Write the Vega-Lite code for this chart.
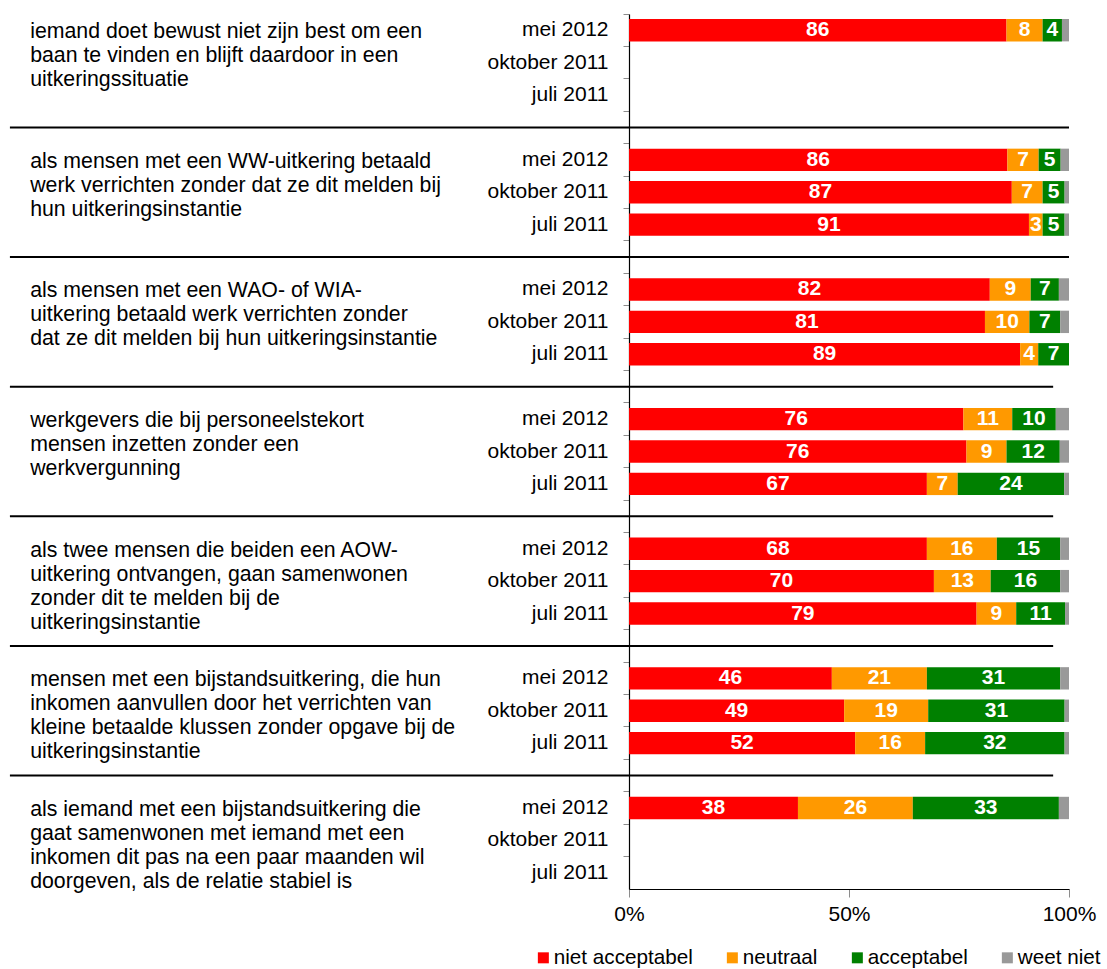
{
  "$schema": "https://vega.github.io/schema/vega-lite/v6.json",
  "width": 440,
  "height": 875,
  "autosize": {"type": "none"},
  "padding": {"left": 629, "top": 14, "right": 38, "bottom": 80},
  "background": "white",
  "config": {
    "font": "Liberation Sans",
    "view": {"stroke": null},
    "axis": {"grid": false}
  },
  "datasets": {
    "segments": [
      {"rij": "g1|mei 2012", "cat": "niet acceptabel", "volgorde": 1, "pct": 85.8, "label": "86"},
      {"rij": "g1|mei 2012", "cat": "neutraal", "volgorde": 2, "pct": 8.2, "label": "8"},
      {"rij": "g1|mei 2012", "cat": "acceptabel", "volgorde": 3, "pct": 4.4, "label": "4"},
      {"rij": "g1|mei 2012", "cat": "weet niet", "volgorde": 4, "pct": 1.6, "label": "2"},
      {"rij": "g2|mei 2012", "cat": "niet acceptabel", "volgorde": 1, "pct": 86.0, "label": "86"},
      {"rij": "g2|mei 2012", "cat": "neutraal", "volgorde": 2, "pct": 7.1, "label": "7"},
      {"rij": "g2|mei 2012", "cat": "acceptabel", "volgorde": 3, "pct": 5.0, "label": "5"},
      {"rij": "g2|mei 2012", "cat": "weet niet", "volgorde": 4, "pct": 1.9, "label": "2"},
      {"rij": "g2|oktober 2011", "cat": "niet acceptabel", "volgorde": 1, "pct": 87.0, "label": "87"},
      {"rij": "g2|oktober 2011", "cat": "neutraal", "volgorde": 2, "pct": 7.0, "label": "7"},
      {"rij": "g2|oktober 2011", "cat": "acceptabel", "volgorde": 3, "pct": 5.0, "label": "5"},
      {"rij": "g2|oktober 2011", "cat": "weet niet", "volgorde": 4, "pct": 1.0, "label": "1"},
      {"rij": "g2|juli 2011", "cat": "niet acceptabel", "volgorde": 1, "pct": 90.9, "label": "91"},
      {"rij": "g2|juli 2011", "cat": "neutraal", "volgorde": 2, "pct": 3.1, "label": "3"},
      {"rij": "g2|juli 2011", "cat": "acceptabel", "volgorde": 3, "pct": 5.0, "label": "5"},
      {"rij": "g2|juli 2011", "cat": "weet niet", "volgorde": 4, "pct": 1.0, "label": "1"},
      {"rij": "g3|mei 2012", "cat": "niet acceptabel", "volgorde": 1, "pct": 82.0, "label": "82"},
      {"rij": "g3|mei 2012", "cat": "neutraal", "volgorde": 2, "pct": 9.3, "label": "9"},
      {"rij": "g3|mei 2012", "cat": "acceptabel", "volgorde": 3, "pct": 6.4, "label": "7"},
      {"rij": "g3|mei 2012", "cat": "weet niet", "volgorde": 4, "pct": 2.3, "label": "2"},
      {"rij": "g3|oktober 2011", "cat": "niet acceptabel", "volgorde": 1, "pct": 80.9, "label": "81"},
      {"rij": "g3|oktober 2011", "cat": "neutraal", "volgorde": 2, "pct": 10.1, "label": "10"},
      {"rij": "g3|oktober 2011", "cat": "acceptabel", "volgorde": 3, "pct": 7.0, "label": "7"},
      {"rij": "g3|oktober 2011", "cat": "weet niet", "volgorde": 4, "pct": 2.0, "label": "2"},
      {"rij": "g3|juli 2011", "cat": "niet acceptabel", "volgorde": 1, "pct": 88.9, "label": "89"},
      {"rij": "g3|juli 2011", "cat": "neutraal", "volgorde": 2, "pct": 4.1, "label": "4"},
      {"rij": "g3|juli 2011", "cat": "acceptabel", "volgorde": 3, "pct": 7.0, "label": "7"},
      {"rij": "g4|mei 2012", "cat": "niet acceptabel", "volgorde": 1, "pct": 76.0, "label": "76"},
      {"rij": "g4|mei 2012", "cat": "neutraal", "volgorde": 2, "pct": 11.1, "label": "11"},
      {"rij": "g4|mei 2012", "cat": "acceptabel", "volgorde": 3, "pct": 9.9, "label": "10"},
      {"rij": "g4|mei 2012", "cat": "weet niet", "volgorde": 4, "pct": 3.0, "label": "3"},
      {"rij": "g4|oktober 2011", "cat": "niet acceptabel", "volgorde": 1, "pct": 76.7, "label": "76"},
      {"rij": "g4|oktober 2011", "cat": "neutraal", "volgorde": 2, "pct": 9.1, "label": "9"},
      {"rij": "g4|oktober 2011", "cat": "acceptabel", "volgorde": 3, "pct": 12.1, "label": "12"},
      {"rij": "g4|oktober 2011", "cat": "weet niet", "volgorde": 4, "pct": 2.1, "label": "2"},
      {"rij": "g4|juli 2011", "cat": "niet acceptabel", "volgorde": 1, "pct": 67.7, "label": "67"},
      {"rij": "g4|juli 2011", "cat": "neutraal", "volgorde": 2, "pct": 7.0, "label": "7"},
      {"rij": "g4|juli 2011", "cat": "acceptabel", "volgorde": 3, "pct": 24.2, "label": "24"},
      {"rij": "g4|juli 2011", "cat": "weet niet", "volgorde": 4, "pct": 1.1, "label": "1"},
      {"rij": "g5|mei 2012", "cat": "niet acceptabel", "volgorde": 1, "pct": 67.7, "label": "68"},
      {"rij": "g5|mei 2012", "cat": "neutraal", "volgorde": 2, "pct": 15.9, "label": "16"},
      {"rij": "g5|mei 2012", "cat": "acceptabel", "volgorde": 3, "pct": 14.4, "label": "15"},
      {"rij": "g5|mei 2012", "cat": "weet niet", "volgorde": 4, "pct": 2.0, "label": "2"},
      {"rij": "g5|oktober 2011", "cat": "niet acceptabel", "volgorde": 1, "pct": 69.3, "label": "70"},
      {"rij": "g5|oktober 2011", "cat": "neutraal", "volgorde": 2, "pct": 12.9, "label": "13"},
      {"rij": "g5|oktober 2011", "cat": "acceptabel", "volgorde": 3, "pct": 15.8, "label": "16"},
      {"rij": "g5|oktober 2011", "cat": "weet niet", "volgorde": 4, "pct": 2.0, "label": "2"},
      {"rij": "g5|juli 2011", "cat": "niet acceptabel", "volgorde": 1, "pct": 79.0, "label": "79"},
      {"rij": "g5|juli 2011", "cat": "neutraal", "volgorde": 2, "pct": 9.0, "label": "9"},
      {"rij": "g5|juli 2011", "cat": "acceptabel", "volgorde": 3, "pct": 11.1, "label": "11"},
      {"rij": "g5|juli 2011", "cat": "weet niet", "volgorde": 4, "pct": 0.9, "label": "1"},
      {"rij": "g6|mei 2012", "cat": "niet acceptabel", "volgorde": 1, "pct": 46.1, "label": "46"},
      {"rij": "g6|mei 2012", "cat": "neutraal", "volgorde": 2, "pct": 21.6, "label": "21"},
      {"rij": "g6|mei 2012", "cat": "acceptabel", "volgorde": 3, "pct": 30.3, "label": "31"},
      {"rij": "g6|mei 2012", "cat": "weet niet", "volgorde": 4, "pct": 2.0, "label": "2"},
      {"rij": "g6|oktober 2011", "cat": "niet acceptabel", "volgorde": 1, "pct": 48.9, "label": "49"},
      {"rij": "g6|oktober 2011", "cat": "neutraal", "volgorde": 2, "pct": 19.1, "label": "19"},
      {"rij": "g6|oktober 2011", "cat": "acceptabel", "volgorde": 3, "pct": 31.0, "label": "31"},
      {"rij": "g6|oktober 2011", "cat": "weet niet", "volgorde": 4, "pct": 1.0, "label": "1"},
      {"rij": "g6|juli 2011", "cat": "niet acceptabel", "volgorde": 1, "pct": 51.4, "label": "52"},
      {"rij": "g6|juli 2011", "cat": "neutraal", "volgorde": 2, "pct": 15.9, "label": "16"},
      {"rij": "g6|juli 2011", "cat": "acceptabel", "volgorde": 3, "pct": 31.7, "label": "32"},
      {"rij": "g6|juli 2011", "cat": "weet niet", "volgorde": 4, "pct": 1.0, "label": "1"},
      {"rij": "g7|mei 2012", "cat": "niet acceptabel", "volgorde": 1, "pct": 38.4, "label": "38"},
      {"rij": "g7|mei 2012", "cat": "neutraal", "volgorde": 2, "pct": 26.1, "label": "26"},
      {"rij": "g7|mei 2012", "cat": "acceptabel", "volgorde": 3, "pct": 33.2, "label": "33"},
      {"rij": "g7|mei 2012", "cat": "weet niet", "volgorde": 4, "pct": 2.3, "label": "2"}
    ],
    "groups": [
      {"rij": "g1|mei 2012", "xpos": -136.1, "tekst": ["iemand doet bewust niet zijn best om een", "baan te vinden en blijft daardoor in een", "uitkeringssituatie"]},
      {"rij": "g2|mei 2012", "xpos": -136.1, "tekst": ["als mensen met een WW-uitkering betaald", "werk verrichten zonder dat ze dit melden bij", "hun uitkeringsinstantie"]},
      {"rij": "g3|mei 2012", "xpos": -136.1, "tekst": ["als mensen met een WAO- of WIA-", "uitkering betaald werk verrichten zonder", "dat ze dit melden bij hun uitkeringsinstantie"]},
      {"rij": "g4|mei 2012", "xpos": -136.1, "tekst": ["werkgevers die bij personeelstekort", "mensen inzetten zonder een", "werkvergunning"]},
      {"rij": "g5|mei 2012", "xpos": -136.1, "tekst": ["als twee mensen die beiden een AOW-", "uitkering ontvangen, gaan samenwonen", "zonder dit te melden bij de", "uitkeringsinstantie"]},
      {"rij": "g6|mei 2012", "xpos": -136.1, "tekst": ["mensen met een bijstandsuitkering, die hun", "inkomen aanvullen door het verrichten van", "kleine betaalde klussen zonder opgave bij de", "uitkeringsinstantie"]},
      {"rij": "g7|mei 2012", "xpos": -136.1, "tekst": ["als iemand met een bijstandsuitkering die", "gaat samenwonen met iemand met een", "inkomen dit pas na een paar maanden wil", "doorgeven, als de relatie stabiel is"]}
    ],
    "seps": [
      {"rij": "gap1", "van": -140.7, "tot": 100},
      {"rij": "gap2", "van": -140.7, "tot": 100},
      {"rij": "gap3", "van": -140.7, "tot": 96.4},
      {"rij": "gap4", "van": -140.7, "tot": 96.4},
      {"rij": "gap5", "van": -140.7, "tot": 96.4},
      {"rij": "gap6", "van": -140.7, "tot": 96.4}
    ]
  },
  "layer": [
    {
      "data": {"name": "segments"},
      "mark": {"type": "bar", "height": {"band": 0.69}},
      "encoding": {
        "y": {
          "field": "rij",
          "type": "nominal",
          "scale": {
            "domain": [
              "g1|mei 2012", "g1|oktober 2011", "g1|juli 2011", "gap1",
              "g2|mei 2012", "g2|oktober 2011", "g2|juli 2011", "gap2",
              "g3|mei 2012", "g3|oktober 2011", "g3|juli 2011", "gap3",
              "g4|mei 2012", "g4|oktober 2011", "g4|juli 2011", "gap4",
              "g5|mei 2012", "g5|oktober 2011", "g5|juli 2011", "gap5",
              "g6|mei 2012", "g6|oktober 2011", "g6|juli 2011", "gap6",
              "g7|mei 2012", "g7|oktober 2011", "g7|juli 2011"
            ],
            "paddingInner": 0,
            "paddingOuter": 0
          },
          "axis": {
            "title": null,
            "labelExpr": "indexof(datum.value, '|') >= 0 ? split(datum.value, '|')[1] : ''",
            "labelFontSize": 21,
            "labelColor": "#000000",
            "labelPadding": 15,
            "bandPosition": 0,
            "tickSize": 6,
            "tickColor": "#8c8c8c",
            "domainColor": "#000000",
            "domainWidth": 1.2
          }
        },
        "x": {
          "field": "pct",
          "type": "quantitative",
          "stack": "zero",
          "scale": {"domain": [0, 100], "nice": false, "zero": true},
          "axis": {
            "title": null,
            "values": [0, 50, 100],
            "labelExpr": "datum.value + '%'",
            "labelFlush": false,
            "labelFontSize": 21,
            "labelColor": "#000000",
            "labelPadding": 6,
            "tickSize": 8,
            "tickColor": "#8c8c8c",
            "domainColor": "#000000",
            "domainWidth": 1.2
          }
        },
        "order": {"field": "volgorde", "type": "quantitative"},
        "color": {
          "field": "cat",
          "type": "nominal",
          "scale": {
            "domain": ["niet acceptabel", "neutraal", "acceptabel", "weet niet"],
            "range": ["#ff0000", "#ff9900", "#008000", "#999999"]
          },
          "legend": {
            "title": null,
            "orient": "none",
            "legendX": -96,
            "legendY": 933,
            "direction": "horizontal",
            "symbolType": "square",
            "symbolSize": 121,
            "symbolStrokeWidth": 0,
            "labelFontSize": 20.7,
            "labelColor": "#000000",
            "labelOffset": 0,
            "columnPadding": 29,
            "labelLimit": 300
          }
        }
      }
    },
    {
      "data": {"name": "segments"},
      "transform": [
        {"stack": "pct", "groupby": ["rij"], "sort": [{"field": "volgorde"}], "as": ["x0", "x1"]},
        {"filter": "datum.cat != 'weet niet'"},
        {"fold": ["x0", "x1"], "as": ["rand", "pos"]},
        {"aggregate": [{"op": "mean", "field": "pos", "as": "mid"}], "groupby": ["rij", "cat", "label"]}
      ],
      "mark": {"type": "text", "color": "white", "fontWeight": "bold", "fontSize": 21, "align": "center", "baseline": "middle"},
      "encoding": {
        "y": {"field": "rij", "type": "nominal"},
        "x": {"field": "mid", "type": "quantitative"},
        "text": {"field": "label"}
      }
    },
    {
      "data": {"name": "groups"},
      "mark": {"type": "text", "align": "left", "baseline": "top", "dy": -9, "fontSize": 21.3, "lineHeight": 24, "color": "#000000"},
      "encoding": {
        "y": {"field": "rij", "type": "nominal"},
        "x": {"field": "xpos", "type": "quantitative"},
        "text": {"field": "tekst"}
      }
    },
    {
      "data": {"name": "seps"},
      "mark": {"type": "rule", "color": "#000000", "strokeWidth": 2},
      "encoding": {
        "y": {"field": "rij", "type": "nominal"},
        "x": {"field": "van", "type": "quantitative"},
        "x2": {"field": "tot"}
      }
    }
  ]
}
